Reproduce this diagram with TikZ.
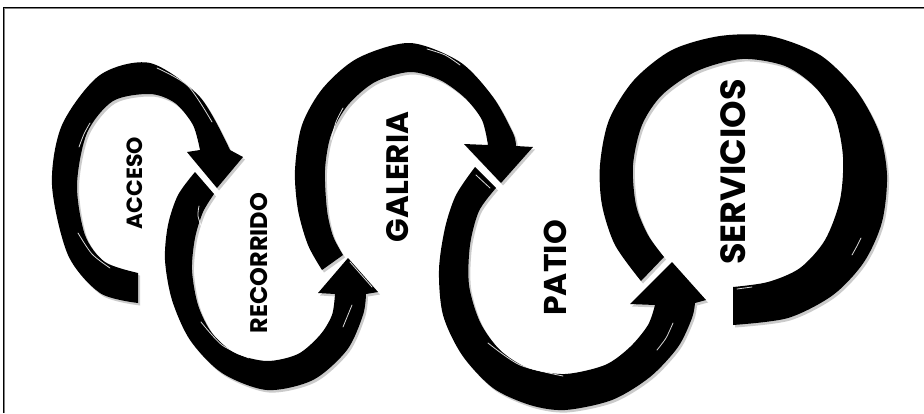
\documentclass[tikz,border=0pt]{standalone}
\usepackage{fontspec}
\newfontfamily\gothic{Poppins}
\usetikzlibrary{shadows}

\begin{document}
\begin{tikzpicture}[x=1pt, y=-1pt,
    band/.style={fill=black, drop shadow={shadow xshift=2pt, shadow yshift=-2.5pt, fill=black!40, opacity=.5}},
    shine/.style={white, line width=0.8pt, line cap=round, opacity=.85},
    stage/.style={rotate=90, inner sep=0pt, font=\gothic\bfseries}]
  \useasboundingbox (0,0) rectangle (924,413);
  \fill[white] (0,0) rectangle (924,413);
  % frame
  \draw[line width=0.7pt, double=gray, double distance=0.6pt] (4,413) -- (4,8) -- (924,8);

  % acceso
  \path[band] plot[smooth] coordinates {(138,303) (100,293) (68,255) (52,185) (62,125) (100,75) (150,63) (200,97) (230,150)}
    -- (243,157) -- (217,188) -- (187,152)
    -- plot[smooth] coordinates {(200,150) (193,125) (175,103) (150,94) (113,101) (87,133) (77,185) (85,235) (105,262) (138,273)} -- cycle;
  % recorrido
  \path[band] plot[smooth] coordinates {(195,172) (178,195) (168,225) (165,260) (172,300) (190,340) (222,373) (267,390) (313,380) (347,350) (363,315) (366,294)}
    -- (378,292) -- (348,258) -- (318,293)
    -- plot[smooth] coordinates {(335,294) (332,315) (320,335) (298,354) (267,361) (235,353) (212,333) (198,305) (192,270) (195,238) (203,212) (214,194)} -- cycle;
  % galeria
  \path[band] plot[smooth] coordinates {(322,270) (308,245) (298,210) (295,170) (302,125) (323,88) (358,58) (410,43) (460,62) (493,97) (513,133) (516,146)}
    -- (533,147) -- (501,183) -- (464,144)
    -- plot[smooth] coordinates {(488,145) (482,120) (465,98) (440,80) (410,72) (375,82) (348,105) (331,135) (325,170) (327,210) (333,236) (343,255)} -- cycle;
  % patio
  \path[band] plot[smooth] coordinates {(475,167) (456,195) (445,228) (439,270) (443,315) (462,355) (493,388) (530,405) (565,410) (612,400) (650,377) (678,347) (692,318) (695,303)}
    -- (706,300) -- (672,262) -- (630,304)
    -- plot[smooth] coordinates {(655,305) (648,325) (630,347) (605,365) (565,374) (528,368) (500,350) (480,322) (469,285) (470,245) (479,211) (496,188)} -- cycle;
  % servicios
  \path[band] plot[smooth] coordinates {(641,281) (615,245) (602,205) (600,165) (609,120) (634,80) (672,50) (720,36) (770,36) (820,55) (856,90) (879,132) (887,175) (882,222) (864,262) (833,295) (788,318) (733,325)}
    -- plot[smooth] coordinates {(733,287) (768,282) (800,268) (825,240) (840,200) (843,157) (835,117) (815,87) (785,66) (742,59) (697,71) (662,95) (642,125) (633,165) (636,205) (648,235) (664,257)} -- cycle;

  % highlights
  \draw[shine] plot[smooth] coordinates {(90,123) (84,134) (79,147)};
  \draw[shine] plot[smooth] coordinates {(78,233) (92,254) (110,268)};
  \draw[shine] plot[smooth] coordinates {(157,68) (188,86) (212,122)};
  \draw[shine] plot[smooth] coordinates {(199,206) (198,216) (202,228)};
  \draw[shine] plot[smooth] coordinates {(201,322) (222,345) (249,358)};
  \draw[shine] plot[smooth] coordinates {(343,327) (352,305)};
  \draw[shine] (350,262) -- (372,287);
  \draw[shine] plot[smooth] coordinates {(331,140) (336,122) (343,108)};
  \draw[shine] plot[smooth] coordinates {(427,49) (445,55) (460,65)};
  \draw[shine] (476,175) -- (490,188);
  \draw[shine] plot[smooth] coordinates {(488,343) (520,365) (563,376)};
  \draw[shine] plot[smooth] coordinates {(657,350) (666,338) (673,323)};
  \draw[shine] plot[smooth] coordinates {(852,255) (857,246) (861,238)};
  \draw[shine] (737,289) -- (752,287);

  % labels
  \node[stage, font=\gothic\bfseries\fontsize{22}{22}\selectfont] (acceso) at (135,183) {ACCESO};
  \node[stage, font=\gothic\bfseries\fontsize{24}{24}\selectfont] (recorrido) at (259,263) {RECORRIDO};
  \node[stage, font=\gothic\bfseries\fontsize{31}{31}\selectfont] (galeria) at (398,177) {GALERIA};
  \node[stage, font=\gothic\bfseries\fontsize{31.5}{31.5}\selectfont] (patio) at (555,268) {PATIO};
  \node[stage, font=\gothic\bfseries\fontsize{35}{35}\selectfont] (servicios) at (733,172) {SERVICIOS};
\end{tikzpicture}
\end{document}
